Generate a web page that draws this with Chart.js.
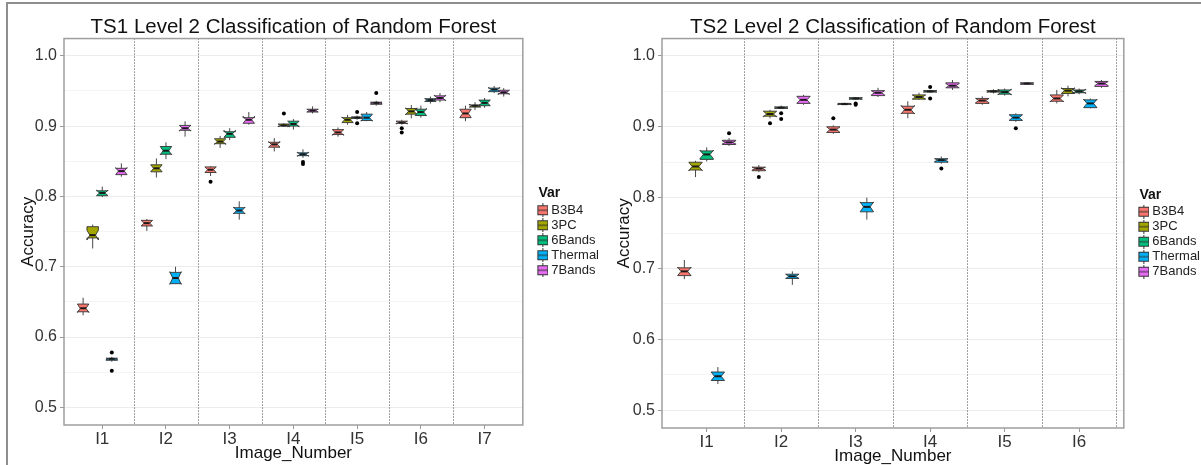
<!DOCTYPE html>
<html lang="en">
<head>
<meta charset="UTF-8">
<title>Level 2 Classification of Random Forest</title>
<script src="https://cdn.jsdelivr.net/npm/chart.js"></script>
<style>
  html, body { margin: 0; padding: 0; background: #fff; overflow: hidden; }
  body { width: 1201px; height: 465px; position: relative; }
  .frame { position: absolute; left: 6px; top: 2px; right: -20px; bottom: -20px;
           border-top: 2px solid #8e8e8e; border-left: 2px solid #8e8e8e; }
  #ts1 { position: absolute; left: 0; top: 0; }
  #ts2 { position: absolute; left: 610px; top: 0; }
</style>
</head>
<body>
<div class="frame"></div>
<canvas id="ts1" width="609" height="465"></canvas>
<canvas id="ts2" width="600" height="468"></canvas>

<script>
// ---- data ----
const ts1Images = ['I1', 'I2', 'I3', 'I4', 'I5', 'I6', 'I7'];
const ts2Images = ['I1', 'I2', 'I3', 'I4', 'I5', 'I6'];
const varNames = ['B3B4', '3PC', '6Bands', 'Thermal', '7Bands'];
const varColors = ['#F8766D', '#A3A500', '#00BF7D', '#00B0F6', '#E76BF3'];
const yMajor = [0.5, 0.6, 0.7, 0.8, 0.9, 1.0];
const yMinor = [0.55, 0.65, 0.75, 0.85, 0.95];
const separators = [1.5, 2.5, 3.5, 4.5, 5.5, 6.5];

// each row: [lower whisker, Q1, median, Q3, upper whisker, notch half-width]
const ts1B3B4 = [
  [0.631, 0.636, 0.641, 0.647, 0.656, 0.006],
  [0.751, 0.758, 0.762, 0.766, 0.768, 0.004],
  [0.829, 0.834, 0.838, 0.842, 0.843, 0.004],
  [0.864, 0.870, 0.874, 0.877, 0.883, 0.004],
  [0.885, 0.888, 0.891, 0.895, 0.898, 0.004],
  [0.902, 0.904, 0.905, 0.907, 0.909, 0.002],
  [0.907, 0.912, 0.918, 0.924, 0.929, 0.006]
];
const ts1PC = [
  [0.726, 0.741, 0.745, 0.757, 0.760, 0.007],
  [0.827, 0.835, 0.840, 0.845, 0.854, 0.005],
  [0.869, 0.875, 0.878, 0.882, 0.886, 0.004],
  [0.899, 0.900, 0.901, 0.903, 0.904, 0.002],
  [0.902, 0.905, 0.909, 0.912, 0.916, 0.004],
  [0.911, 0.917, 0.921, 0.925, 0.930, 0.005],
  [0.923, 0.927, 0.929, 0.930, 0.934, 0.002]
];
const ts1Bands6 = [
  [0.799, 0.801, 0.805, 0.808, 0.814, 0.004],
  [0.853, 0.860, 0.865, 0.871, 0.877, 0.006],
  [0.880, 0.884, 0.889, 0.892, 0.897, 0.005],
  [0.895, 0.900, 0.903, 0.907, 0.910, 0.004],
  [0.909, 0.911, 0.912, 0.913, 0.915, 0.001],
  [0.912, 0.915, 0.920, 0.924, 0.929, 0.005],
  [0.926, 0.929, 0.933, 0.937, 0.940, 0.004]
];
const ts1Thermal = [
  [0.565, 0.567, 0.569, 0.570, 0.572, 0.001],
  [0.676, 0.676, 0.684, 0.692, 0.700, 0.009],
  [0.767, 0.776, 0.780, 0.784, 0.793, 0.005],
  [0.855, 0.858, 0.860, 0.862, 0.867, 0.003],
  [0.907, 0.908, 0.912, 0.917, 0.920, 0.005],
  [0.932, 0.935, 0.937, 0.939, 0.942, 0.002],
  [0.947, 0.949, 0.952, 0.954, 0.957, 0.003]
];
const ts1Bands7 = [
  [0.828, 0.831, 0.836, 0.840, 0.847, 0.005],
  [0.885, 0.894, 0.897, 0.901, 0.907, 0.004],
  [0.902, 0.904, 0.909, 0.912, 0.920, 0.005],
  [0.918, 0.920, 0.922, 0.924, 0.928, 0.002],
  [0.929, 0.931, 0.933, 0.934, 0.936, 0.001],
  [0.934, 0.937, 0.940, 0.943, 0.947, 0.004],
  [0.942, 0.946, 0.948, 0.951, 0.954, 0.003]
];
const ts1B3B4Out = [[], [], [0.821], [], [], [0.897, 0.891], []];
const ts1PCOut = [[], [], [], [0.918], [], [], []];
const ts1Bands6Out = [[], [], [], [], [0.920, 0.904], [], []];
const ts1ThermalOut = [[0.578, 0.552], [], [], [0.849, 0.846], [], [], []];
const ts1Bands7Out = [[], [], [], [], [0.947], [], []];

const ts2B3B4 = [
  [0.685, 0.690, 0.696, 0.701, 0.712, 0.006],
  [0.836, 0.838, 0.841, 0.843, 0.846, 0.002],
  [0.890, 0.892, 0.896, 0.900, 0.902, 0.004],
  [0.912, 0.919, 0.924, 0.929, 0.936, 0.006],
  [0.931, 0.933, 0.937, 0.940, 0.943, 0.003],
  [0.933, 0.936, 0.940, 0.945, 0.952, 0.005]
];
const ts2PC = [
  [0.829, 0.839, 0.844, 0.850, 0.852, 0.006],
  [0.912, 0.915, 0.918, 0.922, 0.924, 0.004],
  [0.931, 0.932, 0.932, 0.933, 0.934, 0.001],
  [0.938, 0.939, 0.942, 0.945, 0.948, 0.003],
  [0.947, 0.949, 0.950, 0.951, 0.953, 0.001],
  [0.943, 0.947, 0.951, 0.954, 0.958, 0.004]
];
const ts2Bands6 = [
  [0.851, 0.854, 0.861, 0.866, 0.871, 0.006],
  [0.925, 0.926, 0.927, 0.928, 0.930, 0.001],
  [0.938, 0.939, 0.940, 0.941, 0.942, 0.001],
  [0.948, 0.949, 0.950, 0.951, 0.952, 0.001],
  [0.944, 0.946, 0.949, 0.952, 0.954, 0.004],
  [0.946, 0.948, 0.950, 0.952, 0.954, 0.003]
];
const ts2Thermal = [
  [0.537, 0.542, 0.548, 0.554, 0.561, 0.006],
  [0.677, 0.686, 0.689, 0.692, 0.696, 0.003],
  [0.769, 0.780, 0.787, 0.793, 0.800, 0.007],
  [0.848, 0.850, 0.853, 0.855, 0.858, 0.002],
  [0.907, 0.909, 0.913, 0.917, 0.919, 0.004],
  [0.926, 0.927, 0.933, 0.938, 0.940, 0.006]
];
const ts2Bands7 = [
  [0.873, 0.875, 0.878, 0.881, 0.884, 0.002],
  [0.931, 0.933, 0.938, 0.943, 0.945, 0.005],
  [0.942, 0.944, 0.948, 0.951, 0.955, 0.003],
  [0.952, 0.955, 0.958, 0.962, 0.966, 0.003],
  [0.959, 0.960, 0.961, 0.962, 0.963, 0.001],
  [0.955, 0.957, 0.961, 0.964, 0.966, 0.003]
];
const ts2B3B4Out = [[], [0.829], [0.912], [], [], []];
const ts2PCOut = [[], [0.905], [], [], [], []];
const ts2Bands6Out = [[], [0.919, 0.911], [0.933, 0.931], [0.956, 0.940], [], []];
const ts2ThermalOut = [[], [], [], [0.841], [0.898], []];
const ts2Bands7Out = [[0.891], [], [], [], [], []];

// ---- drawing ----
Chart.defaults.font.family = "'Liberation Sans', Arial, Helvetica, sans-serif";

// small boxplot glyph used as the legend key
function legendKey(color) {
  const c = document.createElement('canvas');
  c.width = 27; c.height = 14;
  const g = c.getContext('2d');
  g.strokeStyle = '#333'; g.lineWidth = 1;
  g.beginPath(); g.moveTo(21.5, 0); g.lineTo(21.5, 14); g.stroke();
  g.fillStyle = color;
  g.fillRect(16.5, 2.5, 10, 9);
  g.strokeRect(16.5, 2.5, 10, 9);
  g.beginPath(); g.moveTo(16.5, 7); g.lineTo(26.5, 7); g.stroke();
  return c;
}

const notchedBoxes = {
  id: 'notchedBoxes',
  beforeDatasetsDraw(chart, args, opts) {
    const {ctx, chartArea: a, scales: {x}} = chart;
    ctx.save();
    ctx.strokeStyle = '#444';
    ctx.lineWidth = 1;
    ctx.setLineDash([1, 2]);
    opts.separators.forEach(v => {
      const px = Math.round(x.getPixelForValue(v)) + 0.5;
      ctx.beginPath(); ctx.moveTo(px, a.top); ctx.lineTo(px, a.bottom); ctx.stroke();
    });
    ctx.restore();
  },
  afterDatasetsDraw(chart) {
    const {ctx, scales: {y}} = chart;
    const py = v => y.getPixelForValue(v);
    ctx.save();
    chart.data.datasets.forEach((ds, i) => {
      chart.getDatasetMeta(i).data.forEach((bar, j) => {
        const [lo, q1, med, q3, hi, notch] = ds.stats[j];
        const cx = bar.x, w = bar.width, l = cx - w / 2, r = cx + w / 2, ind = w / 4;
        const pm = py(med), nu = py(med + notch), nl = py(med - notch);
        ctx.strokeStyle = '#333';
        ctx.lineWidth = 0.9;
        // whiskers
        ctx.beginPath();
        ctx.moveTo(cx, py(hi)); ctx.lineTo(cx, py(q3));
        ctx.moveTo(cx, py(q1)); ctx.lineTo(cx, py(lo));
        ctx.stroke();
        // notched box
        ctx.beginPath();
        ctx.moveTo(l, py(q3)); ctx.lineTo(l, nu); ctx.lineTo(l + ind, pm); ctx.lineTo(l, nl);
        ctx.lineTo(l, py(q1)); ctx.lineTo(r, py(q1)); ctx.lineTo(r, nl); ctx.lineTo(r - ind, pm);
        ctx.lineTo(r, nu); ctx.lineTo(r, py(q3)); ctx.closePath();
        ctx.fillStyle = ds.boxColor;
        ctx.fill();
        ctx.stroke();
        // median
        ctx.strokeStyle = '#1a1a1a';
        ctx.lineWidth = 2;
        ctx.beginPath(); ctx.moveTo(l + ind, pm); ctx.lineTo(r - ind, pm); ctx.stroke();
        // outliers
        ctx.fillStyle = '#000';
        ds.outliers[j].forEach(v => {
          ctx.beginPath(); ctx.arc(cx, py(v), 2, 0, Math.PI * 2); ctx.fill();
        });
      });
    });
    ctx.restore();
  },
  afterDraw(chart) {
    const {ctx, chartArea: a} = chart;
    ctx.save();
    ctx.strokeStyle = '#9e9e9e';
    ctx.lineWidth = 1.5;
    ctx.strokeRect(a.left, a.top, a.width, a.height);
    ctx.restore();
  }
};

function makePanel(id, title, images, series, outliers, axisWidth, titlePad, tickPad) {
  const datasets = varNames.map((name, k) => ({
    label: name,
    data: series[k].map((s, j) => ({x: j + 1, y: [s[1], s[3]]})),
    stats: series[k],
    outliers: outliers[k],
    boxColor: varColors[k],
    backgroundColor: 'rgba(0,0,0,0)',
    borderWidth: 0,
    categoryPercentage: 0.75,
    barPercentage: 1.2
  }));
  const yTicks = yMajor.concat(yMinor).sort((p, q) => p - q);

  return new Chart(document.getElementById(id), {
    type: 'bar',
    data: {datasets},
    options: {
      responsive: false,
      animation: false,
      layout: {padding: 0},
      scales: {
        x: {
          type: 'linear',
          offset: false,
          min: 0.4,
          max: images.length + 0.6,
          afterBuildTicks: s => { s.ticks = images.map((_, i) => ({value: i + 1})); },
          afterFit: s => { s.height = 40; },
          ticks: {callback: v => images[v - 1], autoSkip: false, maxRotation: 0,
                  font: {size: 17}, color: '#333', padding: 0},
          grid: {offset: false, drawOnChartArea: false, tickLength: 4, tickColor: '#999'},
          border: {display: false},
          title: {display: true, text: 'Image_Number', font: {size: 17}, color: '#111',
                  padding: {top: 0, bottom: 1}}
        },
        y: {
          min: 0.475,
          max: 1.0245,
          afterBuildTicks: s => { s.ticks = yTicks.map(v => ({value: v})); },
          afterFit: s => { s.width = axisWidth; },
          ticks: {callback: v => yMajor.includes(v) ? v.toFixed(1) : '',
                  font: {size: 16}, color: '#333', padding: tickPad},
          grid: {
            color: c => (c.tick && yMajor.includes(c.tick.value)) ? '#ececec' : '#f4f4f4',
            tickColor: c => (c.tick && yMajor.includes(c.tick.value)) ? '#999' : 'rgba(0,0,0,0)',
            tickLength: 4
          },
          border: {display: false},
          title: {display: true, text: 'Accuracy', font: {size: 17}, color: '#111',
                  padding: {top: titlePad, bottom: 0}}
        }
      },
      plugins: {
        title: {display: true, text: title, fullSize: false, color: '#111',
                font: {size: 20.5, weight: 'normal', lineHeight: 1.1},
                padding: {top: 16, bottom: 0}},
        legend: {
          position: 'right',
          align: 'center',
          title: {display: true, text: '    Var', position: 'start', color: '#111',
                  font: {size: 14, weight: 'bold', lineHeight: 1.1}, padding: 0},
          labels: {
            usePointStyle: true,
            pointStyleWidth: 20,
            padding: 2,
            color: '#222',
            font: {size: 13},
            generateLabels: chart => chart.data.datasets.map((ds, i) => ({
              text: ds.label, pointStyle: legendKey(ds.boxColor), datasetIndex: i,
              hidden: false, lineWidth: 0, fontColor: '#222'
            }))
          }
        },
        tooltip: {enabled: false},
        notchedBoxes: {separators}
      }
    },
    plugins: [notchedBoxes]
  });
}

makePanel('ts1', 'TS1 Level 2 Classification of Random Forest', ts1Images,
  [ts1B3B4, ts1PC, ts1Bands6, ts1Thermal, ts1Bands7],
  [ts1B3B4Out, ts1PCOut, ts1Bands6Out, ts1ThermalOut, ts1Bands7Out], 64, 18.5, 3);

makePanel('ts2', 'TS2 Level 2 Classification of Random Forest', ts2Images,
  [ts2B3B4, ts2PC, ts2Bands6, ts2Thermal, ts2Bands7],
  [ts2B3B4Out, ts2PCOut, ts2Bands6Out, ts2ThermalOut, ts2Bands7Out], 52, 3.8, 3);
</script>
</body>
</html>
